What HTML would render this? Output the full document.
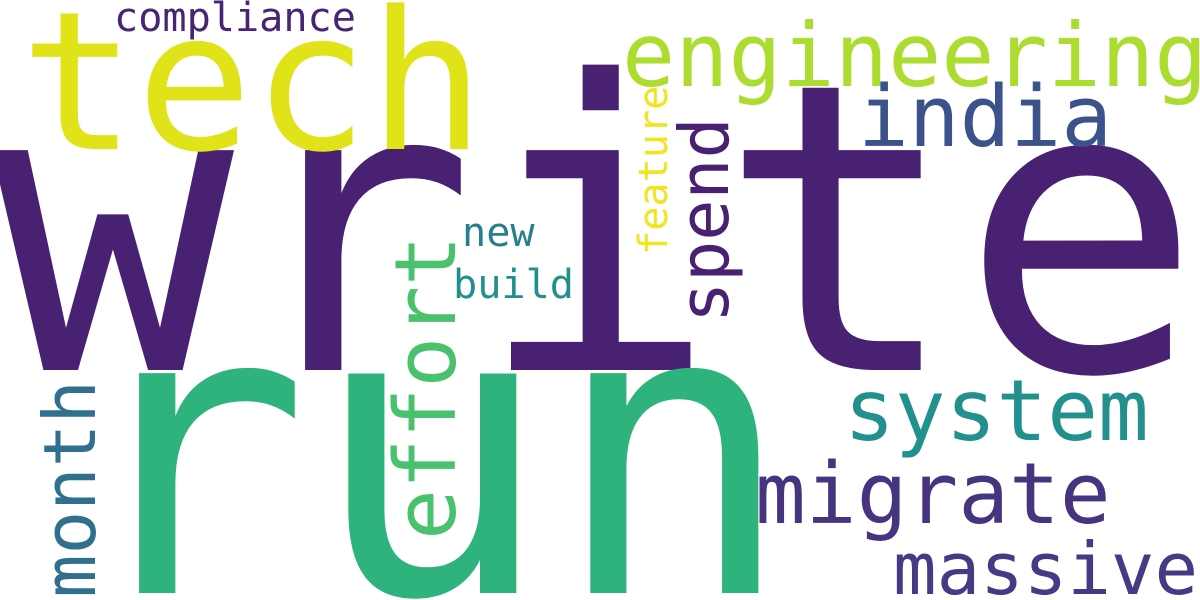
<!DOCTYPE html>
<html>
<head>
<meta charset="utf-8">
<style>
html,body{margin:0;padding:0;background:#fff;width:1200px;height:600px;overflow:hidden;}
svg{display:block;}
text{font-family:"DejaVu Sans Mono","Liberation Mono",monospace;}
</style>
</head>
<body>
<svg width="1200" height="600" viewBox="0 0 1200 600">
<rect width="1200" height="600" fill="#ffffff"/>
<g id="words"></g>
</svg>
<script>
const words = ["write","run","tech","engineering","india","compliance","spend","feature","new","build","effort","month","system","migrate","massive"];
const weights = [1.0,1.0,0.48,0.22,0.21,0.10,0.17,0.10,0.10,0.10,0.21,0.18,0.21,0.21,0.18];
const colors = ["#482173","#2eb37c","#dfe318","#addc30","#3b528b","#482475","#482173","#f1e51d","#277f8e","#21908d","#4ac16d","#30708e","#22908c","#463480","#443b84"];
// layout: [x, y, rotated]
const layout = [[-8,370,0],[68,593,0],[20,149,0],[622,86,0],[858,146,0],[114,31,0],[728,323,1],[667,255,1],[462,246,0],[453,298,0],[455,540,1],[95,598,1],[844,440,0],[755,523,0],[893,594,0]];
const maxSize = 402;
const g = document.getElementById('words');
words.forEach((w,i)=>{
  const t = document.createElementNS('http://www.w3.org/2000/svg','text');
  const [x,y,r] = layout[i];
  t.setAttribute('x', x);
  t.setAttribute('y', y);
  if (r) t.setAttribute('transform', `rotate(-90 ${x} ${y})`);
  t.setAttribute('font-size', (weights[i]*maxSize).toFixed(1));
  t.setAttribute('fill', colors[i]);
  t.textContent = w;
  
  
  g.appendChild(t);
});
</script>
</body>
</html>
